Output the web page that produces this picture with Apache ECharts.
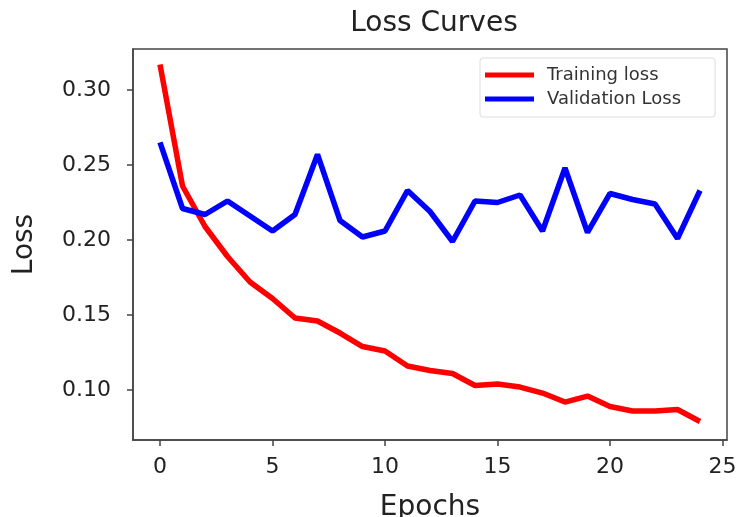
<!DOCTYPE html>
<html><head><meta charset="utf-8">
<script src="https://cdn.jsdelivr.net/npm/echarts@6/dist/echarts.min.js"></script>
<style>html,body{margin:0;padding:0;background:#fff}#c{width:740px;height:517px}</style>
</head><body><div id="c"></div>
<script>
const epochs = [0,1,2,3,4,5,6,7,8,9,10,11,12,13,14,15,16,17,18,19,20,21,22,23,24];
const trainingLoss = [0.317,0.236,0.209,0.189,0.172,0.161,0.148,0.146,0.138,0.129,0.126,0.116,0.113,0.111,0.103,0.104,0.102,0.098,0.092,0.096,0.089,0.086,0.086,0.087,0.079];
const validationLoss = [0.265,0.221,0.217,0.226,0.216,0.206,0.217,0.257,0.213,0.202,0.206,0.233,0.219,0.199,0.226,0.225,0.230,0.206,0.248,0.205,0.231,0.227,0.224,0.201,0.233];
const xTicks = [0,5,10,15,20,25];
const yTicks = [0.10,0.15,0.20,0.25,0.30];

const font = 'DejaVu Sans';
const chart = echarts.init(document.getElementById('c'));
const pair = arr => epochs.map((e,i)=>[e,arr[i]]);
chart.setOption({
  animation:false,
  backgroundColor:'#fff',
  title:{text:'Loss Curves',left:429,top:5,textAlign:'center',textStyle:{fontFamily:font,fontWeight:'normal',fontSize:28,color:'#222'}},
  grid:{left:133,right:13,top:49,bottom:77,show:true,borderColor:'#444',borderWidth:1.5,backgroundColor:'transparent',containLabel:false,outerBoundsMode:'none'},
  legend:{left:480,top:58,orient:'vertical',itemWidth:49,itemHeight:5,itemGap:6,icon:'rect',
    borderColor:'#ddd',borderWidth:1,borderRadius:3,padding:[8,34,9,5],backgroundColor:'#fff',
    textStyle:{fontFamily:font,fontSize:18,color:'#333',padding:[0,0,0,8]},
    data:['Training loss','Validation Loss']},
  xAxis:{type:'value',min:-1.2,max:25.2,
    name:'Epochs',nameLocation:'middle',nameGap:54,nameTextStyle:{fontFamily:font,fontSize:28,color:'#222'},
    axisLine:{show:true,onZero:false,lineStyle:{color:'#444',width:1.5}},
    axisTick:{show:true,length:6,customValues:xTicks,lineStyle:{color:'#444',width:1.5}},
    axisLabel:{customValues:xTicks,fontFamily:font,fontSize:22,color:'#222',margin:16},
    splitLine:{show:false}},
  yAxis:{type:'value',min:0.0667,max:0.3273,
    name:'Loss',nameLocation:'middle',nameGap:94,nameRotate:90,nameTextStyle:{fontFamily:font,fontSize:28,color:'#222'},
    axisLine:{show:true,onZero:false,lineStyle:{color:'#444',width:1.5}},
    axisTick:{show:true,length:6,customValues:yTicks,lineStyle:{color:'#444',width:1.5}},
    axisLabel:{customValues:yTicks,formatter:v=>v.toFixed(2),fontFamily:font,fontSize:22,color:'#222',margin:22},
    splitLine:{show:false}},
  series:[
    {name:'Training loss',type:'line',data:pair(trainingLoss),showSymbol:false,symbol:'none',color:'#ff0000',lineStyle:{width:5.5,color:'#ff0000'},z:3},
    {name:'Validation Loss',type:'line',data:pair(validationLoss),showSymbol:false,symbol:'none',color:'#0000ff',lineStyle:{width:5.5,color:'#0000ff'},z:4}
  ]
});
</script></body></html>
